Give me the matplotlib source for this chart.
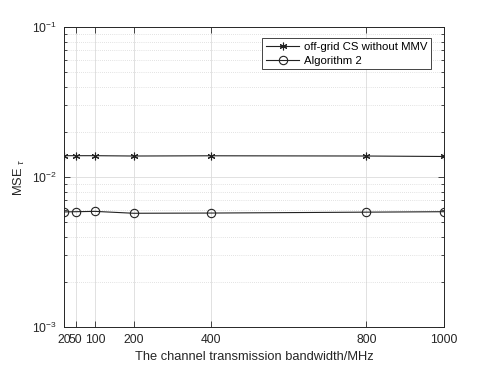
import matplotlib
matplotlib.use('Agg')
import matplotlib.pyplot as plt
from matplotlib.ticker import LogLocator, NullFormatter

plt.rcParams['font.family'] = ['Liberation Sans', 'DejaVu Sans']
plt.rcParams['mathtext.fontset'] = 'custom'
plt.rcParams['mathtext.rm'] = 'Liberation Sans'
plt.rcParams['mathtext.it'] = 'Liberation Sans:italic'

bandwidth = [20, 50, 100, 200, 400, 800, 1000]
mse_cs = [0.01387, 0.01387, 0.01387, 0.01380, 0.01385, 0.01380, 0.01370]
mse_alg2 = [0.00585, 0.00587, 0.00590, 0.00573, 0.00575, 0.00583, 0.00587]
xtick_labels = ['20', '50', '100', '200', '400', '800', '1000']

fig = plt.figure(figsize=(4.91, 3.68), dpi=100)
ax = fig.add_axes([64 / 491, 41 / 368, 380 / 491, 300 / 368])

ax.semilogy(bandwidth, mse_cs, '-', marker=(6, 2, 0), color='#222222', lw=0.8, ms=5.5,
            mew=0.8, label='off-grid CS without MMV')
ax.semilogy(bandwidth, mse_alg2, '-o', color='#222222', lw=0.8, ms=6,
            mfc='none', mew=0.8, label='Algorithm 2')

ax.set_xlim(20, 1000)
ax.set_ylim(1e-3, 1e-1)
ax.set_xticks(bandwidth)
ax.set_xticklabels(xtick_labels)
ax.yaxis.set_minor_locator(LogLocator(base=10, subs=range(2, 10)))
ax.yaxis.set_minor_formatter(NullFormatter())

ax.grid(True, which='major', color='#dcdcdc', lw=0.6, ls='-')
ax.grid(True, which='minor', axis='y', color='#c8c8c8', lw=0.5, ls=(0, (1, 2)))
ax.set_axisbelow(True)

ax.tick_params(which='both', direction='in', top=True, right=True,
               labelsize=8.7, colors='#262626', width=0.6, pad=5)
ax.tick_params(which='major', length=4)
ax.tick_params(which='minor', length=2)
for s in ax.spines.values():
    s.set_color('#262626')
    s.set_linewidth(0.7)

ax.set_xlabel('The channel transmission bandwidth/MHz', fontsize=9.3, color='#262626', labelpad=4)
ax.set_ylabel(r'MSE $_{\tau}$', fontsize=9.3, color='#262626', labelpad=4)

leg = ax.legend(loc='upper right', bbox_to_anchor=(0.967, 0.963), fontsize=8.2,
                fancybox=False, framealpha=1, edgecolor='#262626',
                borderpad=0.35, labelspacing=0.3, handlelength=2.9,
                handletextpad=0.4, borderaxespad=0)
leg.get_frame().set_linewidth(0.6)

fig.savefig('out.png', dpi=100)
